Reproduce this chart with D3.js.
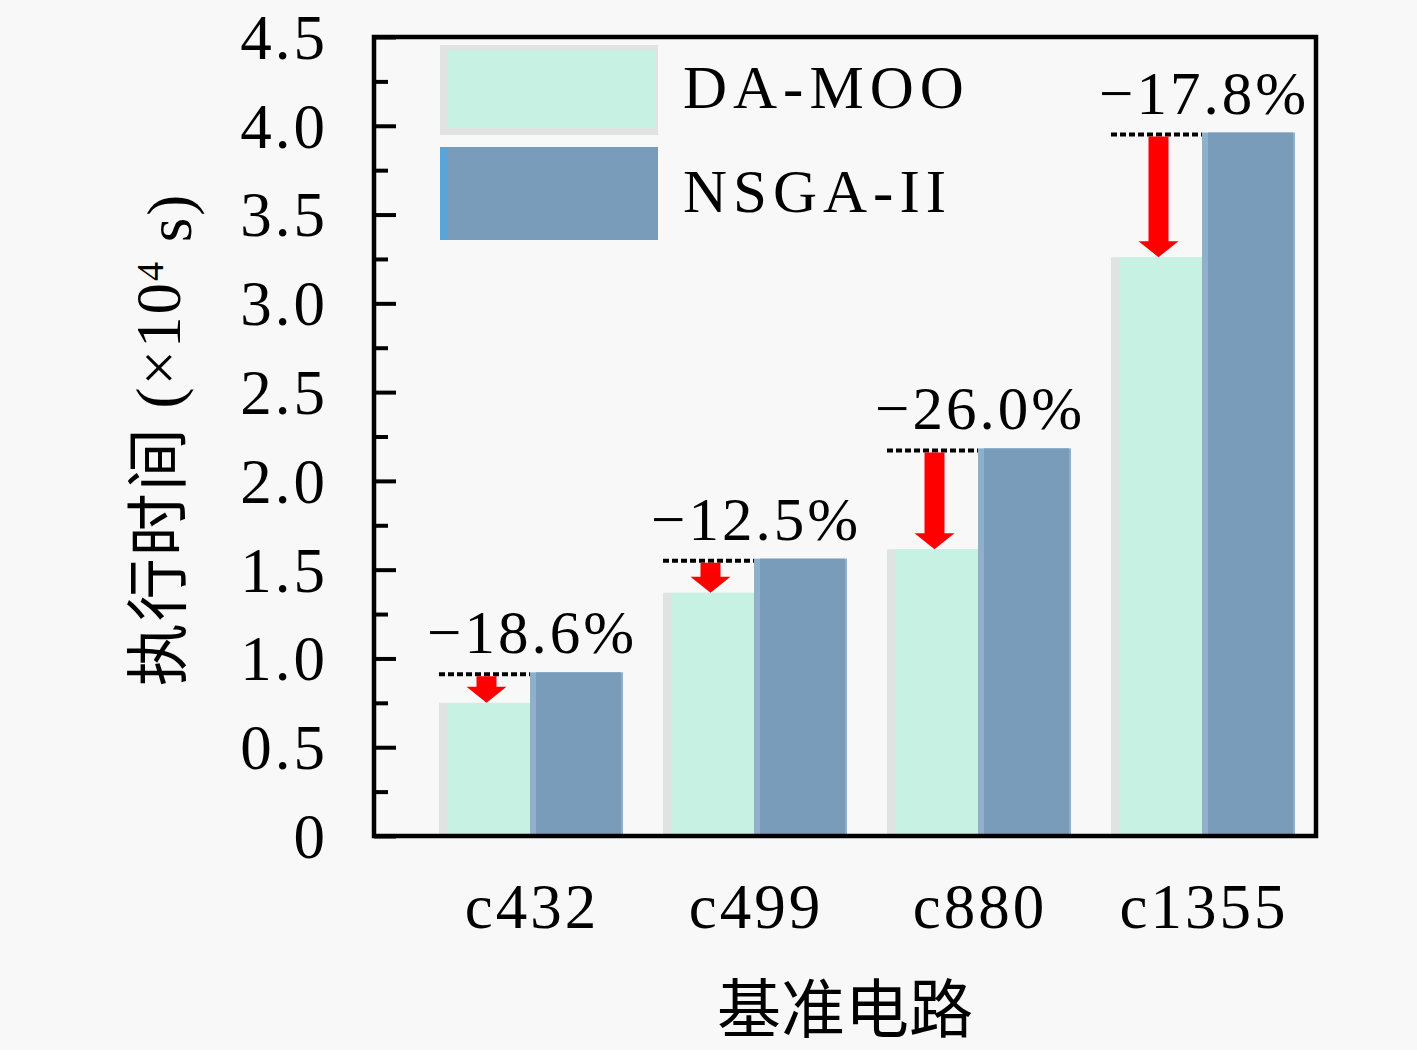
<!DOCTYPE html>
<meta charset="utf-8">
<style>
  body { margin: 0; background: #f8f8f8; }
  text { font-family: "Liberation Serif", "Noto Sans CJK SC", serif; fill: #000; }
</style>
<body>
<script src="https://d3js.org/d3.v7.min.js"></script>
<div id="chart"></div>
<script>

// data (values in 10^4 s)
var circuits = ["c432", "c499", "c880", "c1355"];
var seriesNames = ["DA-MOO", "NSGA-II"];
var damoo = [0.75, 1.37, 1.615, 3.26];
var nsga = [0.922, 1.562, 2.183, 3.962];
var changeLabels = ["\u221218.6%", "\u221212.5%", "\u221226.0%", "\u221217.8%"];
var majorTicks = [0, 0.5, 1.0, 1.5, 2.0, 2.5, 3.0, 3.5, 4.0, 4.5];
var minorTicks = [0.25, 0.75, 1.25, 1.75, 2.25, 2.75, 3.25, 3.75, 4.25];

var width = 1417, height = 1050;
var plot = {left: 374, right: 1316, top: 37, bottom: 836};

var tealColor = "#c6f1e3", tealEdge = "#e1e3e2";
var blueColor = "#789cba", blueEdge = "#8db0cc";

var svg = d3.select("#chart").append("svg")
    .attr("width", width)
    .attr("height", height);

svg.append("rect")
    .attr("width", width).attr("height", height)
    .attr("fill", "#f8f8f8");

var y = d3.scaleLinear().domain([0, 4.5]).range([plot.bottom, plot.top]);
var x = d3.scaleBand().domain(circuits).range([418, 1314]);
var barW = 91;

function center(c) { return x(c) + x.bandwidth() / 2; }

// bars
var groups = svg.append("g").selectAll("g")
    .data(circuits)
    .enter().append("g");

// DA-MOO bars with grey left edge
groups.append("rect")
    .attr("x", function(d) { return center(d) - barW; })
    .attr("y", function(d, i) { return y(damoo[i]); })
    .attr("width", barW)
    .attr("height", function(d, i) { return y(0) - y(damoo[i]); })
    .attr("fill", tealEdge);
groups.append("rect")
    .attr("x", function(d) { return center(d) - barW + 8; })
    .attr("y", function(d, i) { return y(damoo[i]); })
    .attr("width", barW - 9)
    .attr("height", function(d, i) { return y(0) - y(damoo[i]); })
    .attr("fill", tealColor);

// NSGA-II bars
groups.append("rect")
    .attr("x", function(d) { return center(d); })
    .attr("y", function(d, i) { return y(nsga[i]); })
    .attr("width", barW + 2)
    .attr("height", function(d, i) { return y(0) - y(nsga[i]); })
    .attr("fill", blueEdge);
groups.append("rect")
    .attr("x", function(d) { return center(d) + 6; })
    .attr("y", function(d, i) { return y(nsga[i]); })
    .attr("width", barW - 6)
    .attr("height", function(d, i) { return y(0) - y(nsga[i]); })
    .attr("fill", blueColor);

// dashed reference line at NSGA-II level
groups.append("line")
    .attr("x1", function(d) { return center(d) - barW; })
    .attr("x2", function(d) { return center(d); })
    .attr("y1", function(d, i) { return y(nsga[i]) + 2; })
    .attr("y2", function(d, i) { return y(nsga[i]) + 2; })
    .attr("stroke", "#000")
    .attr("stroke-width", 4)
    .attr("stroke-dasharray", "6,3");

// red arrows
var shaft = 10, head = 20, headLen = 16;
groups.append("path")
    .attr("fill", "#ff0000")
    .attr("d", function(d, i) {
      var cx = center(d) - barW / 2 + 2;
      var y0 = y(nsga[i]) + 4, y1 = y(damoo[i]);
      var yh = y1 - headLen;
      return "M" + (cx - shaft) + "," + y0 +
             "L" + (cx + shaft) + "," + y0 +
             "L" + (cx + shaft) + "," + yh +
             "L" + (cx + head) + "," + yh +
             "L" + cx + "," + y1 +
             "L" + (cx - head) + "," + yh +
             "L" + (cx - shaft) + "," + yh + "Z";
    });

// percentage labels
groups.append("text")
    .attr("x", function(d) { return center(d) + 2; })
    .attr("y", function(d, i) { return y(nsga[i]) - 19; })
    .attr("text-anchor", "middle")
    .style("font-size", "61px")
    .style("letter-spacing", "3px")
    .text(function(d, i) { return changeLabels[i]; });

// frame
svg.append("rect")
    .attr("x", plot.left).attr("y", plot.top)
    .attr("width", plot.right - plot.left)
    .attr("height", plot.bottom - plot.top)
    .attr("fill", "none")
    .attr("stroke", "#000")
    .attr("stroke-width", 4.5);

// y axis, ticks pointing inward
var gy = svg.append("g")
    .attr("transform", "translate(" + plot.left + ",0)")
    .call(d3.axisLeft(y)
        .tickValues(majorTicks)
        .tickSize(-22)
        .tickPadding(46)
        .tickFormat(function(d) { return d === 0 ? "0" : d3.format(".1f")(d); }));
gy.select(".domain").remove();
gy.selectAll("line").attr("stroke", "#000").attr("stroke-width", 4);
gy.selectAll("text")
    .style("font-family", "'Liberation Serif', serif")
    .style("font-size", "63px")
    .style("letter-spacing", "3px")
    .attr("dy", "0.34em");

var gm = svg.append("g")
    .attr("transform", "translate(" + plot.left + ",0)")
    .call(d3.axisLeft(y).tickValues(minorTicks).tickSize(-14).tickFormat(""));
gm.select(".domain").remove();
gm.selectAll("line").attr("stroke", "#000").attr("stroke-width", 4);

// x category labels
svg.append("g").selectAll("text")
    .data(circuits)
    .enter().append("text")
    .attr("x", function(d) { return center(d) + 2; })
    .attr("y", 928)
    .attr("text-anchor", "middle")
    .style("font-size", "63px")
    .style("letter-spacing", "3px")
    .text(function(d) { return d; });

// axis titles
svg.append("text")
    .attr("x", (plot.left + plot.right) / 2)
    .attr("y", 1032)
    .attr("text-anchor", "middle")
    .style("font-size", "64px")
    .text("基准电路");

var yt = svg.append("text")
    .attr("transform", "translate(180," + ((plot.top + plot.bottom) / 2 + 3) + ") rotate(-90)")
    .attr("text-anchor", "middle")
    .style("font-size", "63px")
    .style("letter-spacing", "2px");
yt.append("tspan").text("执行时间 (×10");
yt.append("tspan").attr("dy", "-0.45em").style("font-size", "38px").text("4");
yt.append("tspan").attr("dy", "0.45em").text(" s)");

// legend
var lg = svg.append("g");
lg.append("rect").attr("x", 440).attr("y", 45).attr("width", 218).attr("height", 90).attr("fill", tealEdge);
lg.append("rect").attr("x", 448).attr("y", 50).attr("width", 208).attr("height", 78).attr("fill", tealColor);
lg.append("rect").attr("x", 440).attr("y", 147).attr("width", 218).attr("height", 93).attr("fill", "#5aa5d8");
lg.append("rect").attr("x", 448).attr("y", 147).attr("width", 209).attr("height", 93).attr("fill", blueColor);
lg.selectAll("text.leg")
    .data(seriesNames)
    .enter().append("text")
    .attr("class", "leg")
    .attr("x", 683)
    .attr("y", function(d, i) { return 108 + i * 104; })
    .style("font-size", "61px")
    .style("letter-spacing", "6px")
    .text(function(d) { return d; });

</script>
</body>
</html>
